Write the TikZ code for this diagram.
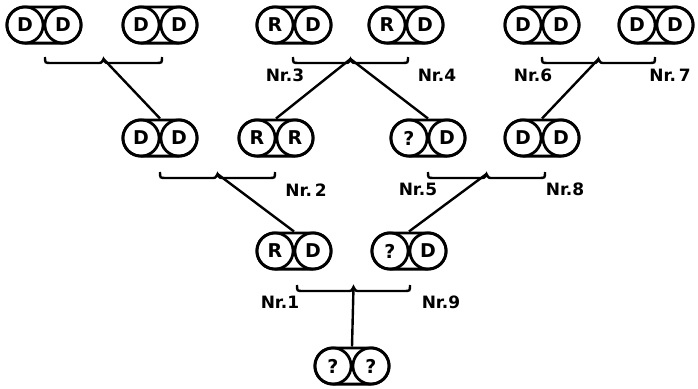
\documentclass[tikz,border=0pt]{standalone}
\usepackage{fontspec}
\newfontfamily\pedfont{DejaVu Sans}
\usetikzlibrary{shapes.misc}

\begin{document}
\begin{tikzpicture}[x=1pt,y=-1pt]
  \tikzset{
    pair body/.style={rounded rectangle, draw, line width=2.8pt,
        minimum width=74.2pt, minimum height=36.2pt, inner sep=0pt},
    allele/.style={circle, draw, line width=2.8pt, minimum size=36.2pt,
        inner sep=0pt, font=\pedfont\bfseries\fontsize{19}{19}\selectfont},
    nr/.style={inner sep=0pt, font=\pedfont\bfseries\fontsize{17}{17}\selectfont},
    link/.style={line width=2.4pt},
    pics/pair/.style 2 args={
      code={
        \node[pair body] (-body) at (0,0) {};
        \node[allele] (-l) at (-19,0) {#1};
        \node[allele] (-r) at (19,0) {#2};
      }
    },
    pics/brace/.style={
      code={
        \draw[link] (-#1,-6) .. controls (-#1,0) .. (-#1+6,0) -- (-6,0)
            .. controls (-2,0) .. (0,-4) .. controls (2,0) .. (6,0)
            -- (#1-6,0) .. controls (#1,0) .. (#1,-6);
        \coordinate (-tip) at (0,-4);
      }
    }
  }
  \useasboundingbox (0,0) rectangle (698,388);

  % first generation
  \pic (a1) at (44,25)  {pair={D}{D}};
  \pic (a2) at (160,25) {pair={D}{D}};
  \pic (a3) at (294,25) {pair={R}{D}};
  \pic (a4) at (406,25) {pair={R}{D}};
  \pic (a5) at (542,25) {pair={D}{D}};
  \pic (a6) at (656,25) {pair={D}{D}};

  % second generation
  \pic (b1) at (160,138) {pair={D}{D}};
  \pic (b2) at (276,138) {pair={R}{R}};
  \pic (b3) at (428,138) {pair={?}{D}};
  \pic (b4) at (542,138) {pair={D}{D}};

  % third generation
  \pic (c1) at (294,251) {pair={R}{D}};
  \pic (c2) at (409,251) {pair={?}{D}};

  % offspring
  \pic (d1) at (352,366) {pair={?}{?}};

  % matings
  \pic (m1) at (103.5,63) {brace=58.5};
  \pic (m2) at (350.5,63) {brace=57.5};
  \pic (m3) at (598.5,63) {brace=56.5};
  \pic (m4) at (217.5,178) {brace=57.5};
  \pic (m5) at (486.5,178) {brace=58.5};
  \pic (m6) at (353.5,291) {brace=56.5};

  \draw[link] (m1-tip) -- (b1-body.north);
  \draw[link] (m2-tip) -- (b2-body.north);
  \draw[link] (m2-tip) -- (b3-body.north);
  \draw[link] (m3-tip) -- (b4-body.north);
  \draw[link] (m4-tip) -- (c1-body.north);
  \draw[link] (m5-tip) -- (c2-body.north);
  \draw[link] (m6-tip) -- (d1-body.north);

  % numbers
  \node[nr] (n3) at (285,75)  {Nr.3};
  \node[nr] (n4) at (437,75)  {Nr.4};
  \node[nr] (n6) at (533,75)  {Nr.6};
  \node[nr] (n7) at (670,75)  {Nr.\,7};
  \node[nr] (n2) at (306,190) {Nr.\,2};
  \node[nr] (n5) at (418,189) {Nr.5};
  \node[nr] (n8) at (565,189) {Nr.8};
  \node[nr] (n1) at (280,302) {Nr.1};
  \node[nr] (n9) at (441,302) {Nr.9};
\end{tikzpicture}
\end{document}
